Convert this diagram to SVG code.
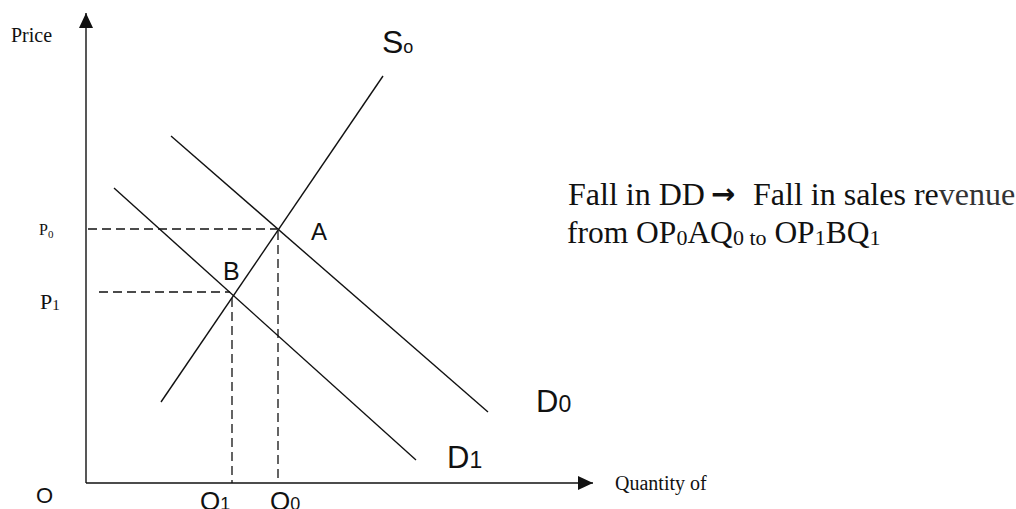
<svg xmlns="http://www.w3.org/2000/svg" width="1016" height="509" viewBox="0 0 1016 509">
<style>
.ln{stroke:#111;stroke-width:1.4;fill:none}
.ds{stroke:#111;stroke-width:1.3;fill:none;stroke-dasharray:9 5}
.serif{font-family:"Liberation Serif","Times New Roman",serif;fill:#111}
.sans{font-family:"Liberation Sans",Arial,sans-serif;fill:#111}
</style>
<defs>
<marker id="ah" viewBox="0 0 15 14" refX="15" refY="7" markerWidth="15" markerHeight="14" markerUnits="userSpaceOnUse" orient="auto">
<path d="M0,0 L15,7 L0,14 Z" fill="#111"/>
</marker>
</defs>
<rect width="1016" height="509" fill="#fff"/>
<g id="connectors">
<line id="y-axis" class="ln" x1="86" y1="483" x2="86" y2="13" marker-end="url(#ah)"/>
<line id="x-axis" class="ln" x1="86" y1="483" x2="593" y2="483" marker-end="url(#ah)"/>
<line id="supply" class="ln" x1="161" y1="402" x2="383" y2="76"/>
<line id="d0" class="ln" x1="171" y1="136" x2="488" y2="412"/>
<line id="d1" class="ln" x1="114" y1="188" x2="416" y2="460"/>
<line class="ds" x1="88" y1="229" x2="277" y2="229"/>
<line class="ds" x1="278" y1="231" x2="278" y2="483"/>
<line class="ds" x1="99" y1="292" x2="230" y2="292"/>
<line class="ds" x1="232" y1="298" x2="232" y2="483"/>
</g>
<g id="axis-labels">
<text class="serif" x="11" y="42" font-size="20">Price</text>
<text class="serif" x="615" y="490" font-size="20">Quantity of</text>
<text class="sans" x="36" y="503" font-size="22">O</text>
<text class="serif" x="39" y="235" font-size="16">P<tspan font-size="11" dy="3">0</tspan></text>
<text class="serif" x="40" y="309" font-size="22">P<tspan font-size="15" dy="1">1</tspan></text>
<text class="sans" x="200" y="510" font-size="26">Q<tspan font-size="18">1</tspan></text>
<text class="sans" x="270" y="510" font-size="26">Q<tspan font-size="18">0</tspan></text>
</g>
<g id="curve-labels">
<text class="sans" x="382" y="53" font-size="32">S<tspan font-size="18">o</tspan></text>
<text class="sans" x="536" y="412" font-size="31">D<tspan font-size="23">0</tspan></text>
<text class="sans" x="447" y="468" font-size="31">D<tspan font-size="23">1</tspan></text>
<text class="sans" x="311" y="240" font-size="24">A</text>
<text class="sans" x="223" y="280" font-size="25">B</text>
</g>
<g id="note">
<text class="serif" x="568" y="205" font-size="32">Fall in DD</text>
<text x="711" y="204" font-size="29" font-weight="bold" font-family="DejaVu Sans, sans-serif" fill="#111">→</text>
<text class="serif" x="753" y="205" font-size="32">Fall in sales re<tspan fill="#333">venue</tspan></text>
<text class="serif" x="567" y="243" font-size="31.5">from OP<tspan dy="2" font-size="22">0</tspan><tspan dy="-2">AQ</tspan><tspan dy="2" font-size="22">0 to</tspan><tspan dy="-2"> OP</tspan><tspan dy="2" font-size="22">1</tspan><tspan dy="-2">BQ</tspan><tspan dy="2" font-size="22">1</tspan></text>
</g>
</svg>
